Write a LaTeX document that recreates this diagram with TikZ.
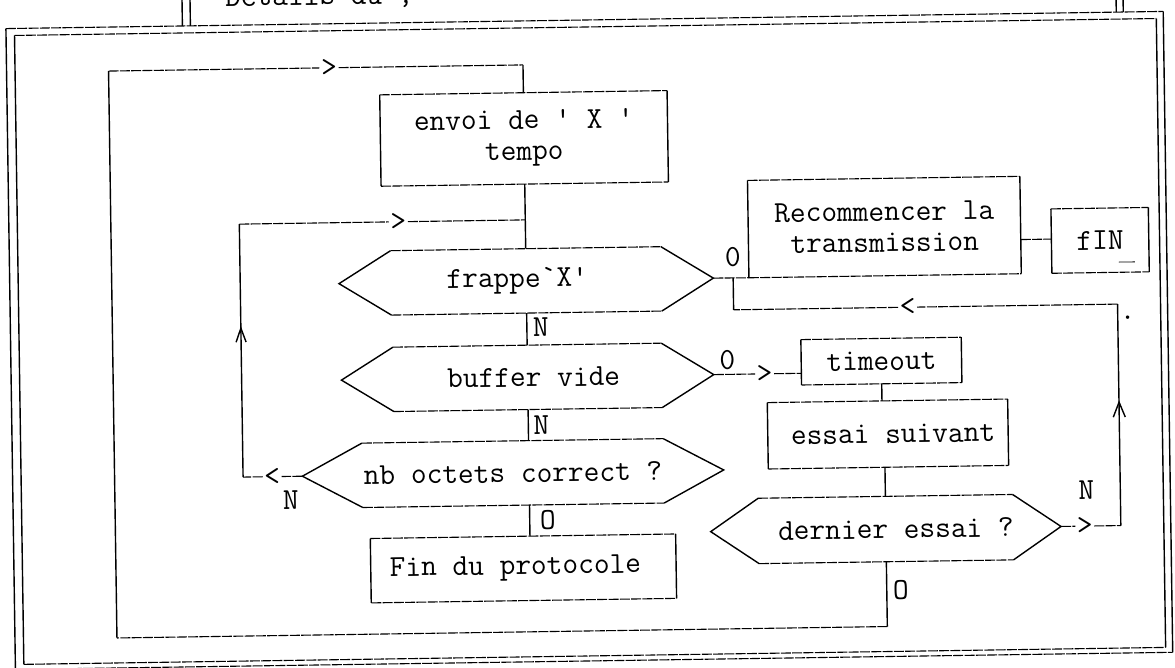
\documentclass[tikz,border=0pt]{standalone}
\usetikzlibrary{calc}
\newcommand\tfont{\ttfamily\fontsize{30.5}{31}\selectfont}
\tikzset{
  hl/.style={line width=1.1pt, draw=black, dash pattern=on 10pt off 1.3pt},
  vl/.style={line width=1.4pt, draw=black},
  box/.style={rectangle, inner sep=0pt, font=\tfont, align=center},
  hexn/.style={rectangle, inner sep=0pt, font=\tfont},
  lab/.style={font=\tfont, inner sep=0pt},
  mk/.style={font=\tfont, inner sep=1.5pt},
}
% box outline: dashed horizontals, solid verticals
\newcommand\boxo[1]{%
  \draw[hl] (#1.north west) -- (#1.north east);
  \draw[hl] (#1.south west) -- (#1.south east);
  \draw[vl] (#1.north west) -- (#1.south west);
  \draw[vl] (#1.north east) -- (#1.south east);}
% hexagon outline: #2 = length of the point
\newcommand\hexo[2]{%
  \draw[hl] ([xshift=#2]#1.north west) -- ([xshift=-#2]#1.north east);
  \draw[hl] ([xshift=#2]#1.south west) -- ([xshift=-#2]#1.south east);
  \draw[vl] ([xshift=#2]#1.north west) -- (#1.west) -- ([xshift=#2]#1.south west);
  \draw[vl] ([xshift=-#2]#1.north east) -- (#1.east) -- ([xshift=-#2]#1.south east);}
\begin{document}
\begin{tikzpicture}[x=1pt,y=-1pt]
\useasboundingbox (0,0) rectangle (1175,668);
\begin{scope}[rotate around={0.85:(587,334)}, transform shape]
% frame
\coordinate (o1) at (10.5,20);  \coordinate (o2) at (1168,20);
\coordinate (o3) at (1168,661); \coordinate (o4) at (10.5,661);
\coordinate (i1) at (19,27);    \coordinate (i2) at (1161,27);
\coordinate (i3) at (1161,656); \coordinate (i4) at (19,656);
\draw[hl] (o1) -- (o2); \draw[hl] (o4) -- (o3);
\draw[vl] (o1) -- (o4); \draw[vl] (o2) -- (o3);
\draw[hl] (i1) -- (i2); \draw[hl] (i4) -- (i3);
\draw[vl] (i1) -- (i4); \draw[vl] (i2) -- (i3);
\draw[vl] (187,-40) -- (187,20);
\draw[vl] (195,-40) -- (195,20);
\draw[vl] (1121,-40) -- (1121,20);
\draw[vl] (1128,-40) -- (1128,20);
\node[lab, anchor=base west] (hdr) at (230,1) {Details du ;};

% nodes
\node[box, minimum width=287pt, minimum height=91pt] (envoi) at (527,137.5) {envoi de \textquotesingle{} X \textquotesingle\\tempo};
\boxo{envoi}
\node[hexn, minimum width=374pt, minimum height=64pt] (frappe) at (527,280) {\hspace*{-18pt}frappe`X'};
\hexo{frappe}{52pt}
\node[box, minimum width=272pt, minimum height=97pt] (recomm) at (886,231.5) {Recommencer la\\transmission};
\boxo{recomm}
\node[box, minimum width=97pt, minimum height=64pt] (fin) at (1101.5,248) {fIN};
\boxo{fin}
\node[hexn, minimum width=372pt, minimum height=64pt] (buffer) at (527,376.5) {\hspace*{12pt}buffer vide};
\hexo{buffer}{52pt}
\node[box, minimum width=160pt, minimum height=45pt] (timeout) at (881,365.5) {timeout};
\boxo{timeout}
\node[box, minimum width=240pt, minimum height=66pt] (essai) at (886.5,438.5) {\hspace*{10pt}essai suivant};
\boxo{essai}
\node[hexn, minimum width=350pt, minimum height=65pt] (dernier) at (883,533.5) {\hspace*{20pt}dernier essai ?};
\hexo{dernier}{48pt}
\node[hexn, minimum width=421pt, minimum height=64pt] (nb) at (511,472) {nb octets correct ?};
\hexo{nb}{60pt}
\node[box, minimum width=305pt, minimum height=64pt] (fdp) at (520,567.5) {\hspace*{-16pt}Fin du protocole};
\boxo{fdp}

% markers
\node[mk] (m1) at (333,64) {>};
\node[mk] (m2) at (270,472) {<};
\node[mk] (m3) at (400,219) {>};
\node[mk] (m4) at (1082,533.5) {>};
\node[mk] (m5) at (908,312) {<};
\node[mk] (m6) at (764,376.5) {>};

% coordinates
\coordinate (b1) at (883,631);
\coordinate (b2) at (112.5,631);
\coordinate (b3) at (112.5,64);
\coordinate (b4) at (527,64);
\coordinate (l1) at (241,472);
\coordinate (l2) at (241,219);
\coordinate (l3) at (527,219);
\coordinate (r1) at (1118,533.5);
\coordinate (r2) at (1118,312);
\coordinate (r3) at (734,312);
\coordinate (j1) at (734,280);

% connectors
\draw[vl] (dernier.south) -- (b1);
\draw[hl] (b1) -- (b2);
\draw[vl] (b2) -- (b3);
\draw[hl] (b3) -- (m1) -- (b4);
\draw[vl] (b4) -- (envoi.north);
\draw[vl] (envoi.south) -- (frappe.north);
\draw[vl] (frappe.south) -- (buffer.north);
\draw[vl] (buffer.south) -- (buffer.south |- nb.north);
\draw[vl] (buffer.south |- nb.south) -- (buffer.south |- fdp.north);
\draw[hl] (nb.west) -- (m2) -- (l1);
\draw[vl] (l1) -- (l2);
\draw[hl] (l2) -- (m3) -- (l3);
\draw[hl] (frappe.east) -- (recomm.south west);
\draw[hl] ([yshift=-14.5pt]recomm.east) -- ([yshift=2pt]fin.west);
\draw[hl] (dernier.east) -- (m4) -- (r1);
\draw[vl] (r1) -- (r2);
\draw[hl] (r2) -- (m5) -- (r3);
\draw[vl] (r3) -- (j1);
\draw[hl] (buffer.east) -- (m6) -- ([yshift=-11pt]timeout.west);
\draw[vl] (timeout.south) -- (timeout.south |- essai.north);
\draw[vl] (dernier.north |- essai.south) -- (dernier.north);

% arrow chevrons
\draw[vl] (236,337) -- (241,323) -- (246,337);
\draw[vl] (1112,425) -- (1118,410) -- (1124,425);
% small marks
\draw[line width=0.8pt] (1120,270) -- (1136,270);
\node[lab] (dot) at (1128,326) {.};

% labels
\node[lab] (lO1) at (734,259) {0};
\node[lab] (lN1) at (541,326) {N};
\node[lab] (lN2) at (540,424) {N};
\node[lab] (lO2) at (727,362) {0};
\node[lab] (lO3) at (545,519) {O};
\node[lab] (lN3) at (288.5,496) {N};
\node[lab] (lN4) at (1084,497.5) {N};
\node[lab] (lO4) at (897,594.5) {O};
\end{scope}
\end{tikzpicture}
\end{document}
